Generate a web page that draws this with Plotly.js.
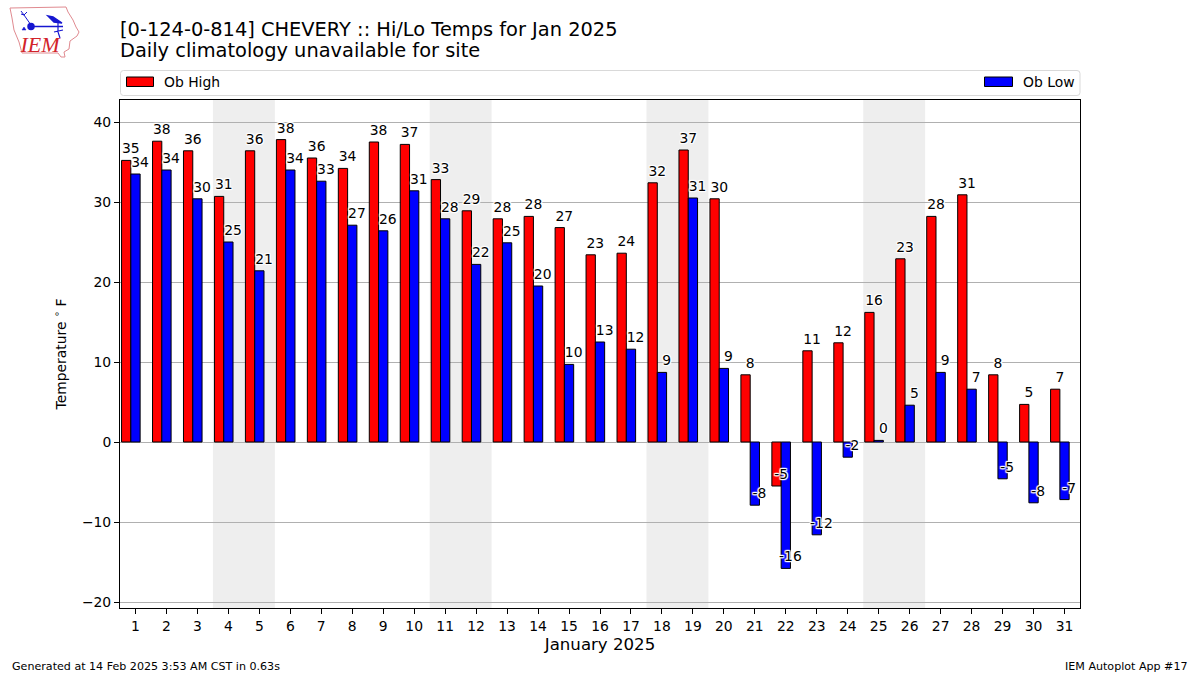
<!DOCTYPE html>
<html><head><meta charset="utf-8">
<script src="https://cdn.plot.ly/plotly-3.0.1.min.js"></script>
<style>html,body{margin:0;padding:0;background:#fff}#wrap{position:relative;width:1200px;height:675px}#chart{width:1200px;height:675px}#logo{position:absolute;left:0;top:0}</style>
</head><body><div id="wrap"><div id="chart"></div>
<svg id="logo" width="90" height="62" viewBox="0 0 90 62">
<path d="M10 8 L66 7 L68 12 L73 20 L76 27 L79 32 L77 36 L70 41 L69 49 L64 52 L65 57 L61 57 L58 53 L22 53 L19 42 L14 30 L12 18 Z" fill="#fff" stroke="#e08a90" stroke-width="1"/>
<g stroke="#1616d0" fill="#1616d0" stroke-width="1.5"><path d="M31 26.5 L63 26.5" fill="none"/><circle cx="31" cy="26.5" r="3"/><path d="M31 25 L24 15 L21 11 M24 15 L27 12 M21 14 L24 15" fill="none" stroke-width="1"/><path d="M48 16 L53 17 L62 23 L54 22 Z"/><path d="M58 22 L58 32 L60 38 M54 32 L63 30" fill="none" stroke-width="1.2"/><path d="M22 30 L24 27 L26 30 Z" stroke-width=".5"/></g>
<text x="20.5" y="52" font-family="Liberation Serif" font-style="italic" font-size="22" fill="#d2232a">IEM</text>
</svg></div>
<script>
var days=[1,2,3,4,5,6,7,8,9,10,11,12,13,14,15,16,17,18,19,20,21,22,23,24,25,26,27,28,29,30,31];
var obHigh=[35.2,37.6,36.4,30.7,36.4,37.8,35.5,34.2,37.5,37.2,32.8,28.9,27.9,28.2,26.8,23.4,23.6,32.4,36.5,30.4,8.4,-5.5,11.4,12.4,16.2,22.9,28.2,30.9,8.4,4.7,6.6];
var obLow=[33.5,34,30.4,25,21.4,34,32.6,27.1,26.4,31.4,27.9,22.2,24.9,19.5,9.7,12.5,11.6,8.7,30.5,9.2,-7.9,-15.8,-11.6,-1.9,0.2,4.6,8.7,6.6,-4.6,-7.6,-7.2];
var weekendStarts=[4,11,18,25];
var titleLine1='[0-124-0-814] CHEVERY :: Hi/Lo Temps for Jan 2025';
var titleLine2='Daily climatology unavailable for site';
var FONT='DejaVu Sans';
var W=1200,H=675,L=120,R=1080,T=100,B=608;
function px(x){return (x-L)/(R-L);} function py(y){return (B-y)/(B-T);}
var halo='white 1px 0 1px, white -1px 0 1px, white 0 1px 1px, white 0 -1px 1px, white 1px 1px 1px, white -1px -1px 1px, white 1px -1px 1px, white -1px 1px 1px';
function barTrace(name,vals,off,col){return {type:'bar',name:name,x:days.map(function(d){return d+off;}),y:vals,width:0.3,marker:{color:col,line:{color:'#000',width:1}},showlegend:false,hoverinfo:'x+y'};}
function labelTrace(vals,off){return {type:'scatter',mode:'text',x:days.map(function(d){return d+off;}),y:vals.map(function(v){return v+0.45;}),text:vals.map(function(v){return String(Math.round(v));}),textposition:'top center',textfont:{family:FONT,size:13.9,color:'#000',shadow:halo},showlegend:false,hoverinfo:'skip',cliponaxis:false};}
var data=[barTrace('Ob High',obHigh,-0.3,'#ff0000'),barTrace('Ob Low',obLow,0,'#0000ff'),labelTrace(obHigh,-0.15),labelTrace(obLow,0.15)];
var shapes=weekendStarts.map(function(d){return {type:'rect',layer:'below',xref:'x',yref:'paper',x0:d-0.5,x1:d+1.5,y0:0,y1:1,fillcolor:'#eeeeee',line:{width:0}};});
function r(y){return py(y);}
var fx0=px(120.5),fx1=px(1080),fy0=r(95.5),fy1=r(70.5),cx=3/(R-L),cy=3/(B-T);
shapes.push({type:'path',xref:'paper',yref:'paper',path:'M '+(fx0+cx)+' '+fy1+' L '+(fx1-cx)+' '+fy1+' Q '+fx1+' '+fy1+' '+fx1+' '+(fy1-cy)+' L '+fx1+' '+(fy0+cy)+' Q '+fx1+' '+fy0+' '+(fx1-cx)+' '+fy0+' L '+(fx0+cx)+' '+fy0+' Q '+fx0+' '+fy0+' '+fx0+' '+(fy0+cy)+' L '+fx0+' '+(fy1-cy)+' Q '+fx0+' '+fy1+' '+(fx0+cx)+' '+fy1+' Z',line:{color:'#d9d9d9',width:1},fillcolor:'#fff'});
shapes.push({type:'rect',xref:'paper',yref:'paper',x0:px(126.5),x1:px(153.5),y0:r(86.5),y1:r(77),fillcolor:'#ff0000',line:{color:'#000',width:1}});
shapes.push({type:'rect',xref:'paper',yref:'paper',x0:px(984.5),x1:px(1012.5),y0:r(86.5),y1:r(77),fillcolor:'#0000ff',line:{color:'#000',width:1}});
function ann(t,xp,yp,size,anchor,vanchor){return {text:t,xref:'paper',yref:'paper',x:px(xp),y:py(yp),xanchor:anchor,yanchor:vanchor||'middle',showarrow:false,font:{family:FONT,size:size,color:'#000'},borderpad:0,borderwidth:0};}
var annotations=[ann('Ob High',164,82,13.9,'left'),ann('Ob Low',1023,82,13.9,'left'),
 ann('Generated at 14 Feb 2025 3:53 AM CST in 0.63s',12,666,11.1,'left'),ann('IEM Autoplot App #17',1188,666,11.1,'right'),
 ann(titleLine2,120,51,19.4,'left')];
var ax={showline:true,mirror:true,linecolor:'#000',linewidth:1,ticks:'outside',ticklen:5,tickwidth:1,tickcolor:'#000',tickfont:{family:FONT,size:13.9,color:'#000'}};
var layout={width:W,height:H,paper_bgcolor:'#fff',plot_bgcolor:'#fff',showlegend:false,barmode:'overlay',
 margin:{l:L,r:W-R,t:T,b:H-B,pad:0},
 title:{text:titleLine1,x:120/W,xanchor:'left',xref:'container',y:1-29/H,yanchor:'middle',font:{family:FONT,size:19.4,color:'#000'}},
 xaxis:Object.assign({},ax,{range:[0.5,31.5],tickvals:days,ticktext:days.map(String),showgrid:false,zeroline:false,title:{text:'January 2025',font:{family:FONT,size:16.6,color:'#000'},standoff:5}}),
 yaxis:Object.assign({},ax,{range:[-20.75,42.75],tickvals:[-20,-10,0,10,20,30,40],ticktext:['\u221220','\u221210','0','10','20','30','40'],showgrid:true,gridcolor:'#b0b0b0',gridwidth:1,zeroline:false,title:{text:'Temperature\u00a0<sup>\u2218</sup>\u00a0F',font:{family:FONT,size:13.9,color:'#000'},standoff:12}}),
 shapes:shapes,annotations:annotations};
Plotly.newPlot('chart',data,layout,{displayModeBar:false,responsive:false});
</script></body></html>
